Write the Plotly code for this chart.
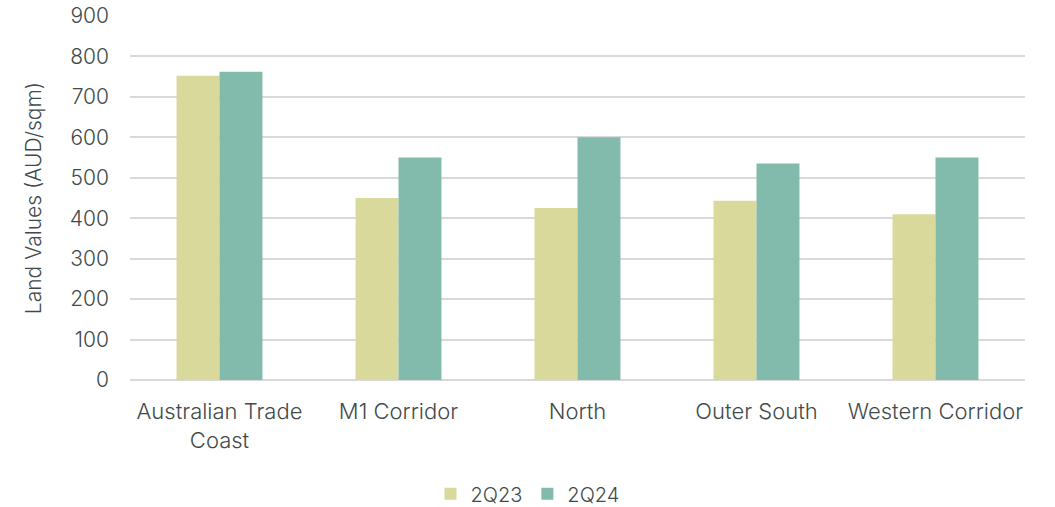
import plotly.graph_objects as go

categories = ["Australian Trade<br>Coast", "M1 Corridor", "North", "Outer South", "Western Corridor"]
values_2q23 = [752, 450, 425, 443, 410]
values_2q24 = [762, 550, 600, 535, 550]
series_names = ["2Q23", "2Q24"]
colors = ["#D9D99B", "#82BAAC"]
text_color = "#3F4B4B"
font_family = "Inter, Roboto, Arial, sans-serif"

fig = go.Figure()
for name, vals, col in zip(series_names, [values_2q23, values_2q24], colors):
    fig.add_trace(go.Bar(x=categories, y=vals, name=name, marker=dict(color=col, line=dict(width=0))))

fig.update_layout(
    width=1055, height=507,
    margin=dict(l=130, r=30, t=16, b=127),
    paper_bgcolor="white", plot_bgcolor="white",
    barmode="group", bargap=0.52, bargroupgap=0,
    font=dict(family=font_family, size=20, color=text_color, weight=300),
    showlegend=True,
    legend=dict(orientation="h", x=0.5, xanchor="center", xref="container",
                y=0.026, yanchor="middle", yref="container",
                font=dict(size=20, color=text_color, weight=300), itemwidth=30, traceorder="normal"),
    xaxis=dict(showgrid=False, showline=False, ticks="", automargin=False,
               ticklabelstandoff=16, tickfont=dict(size=22, color=text_color, weight=300)),
    yaxis=dict(range=[0, 900], dtick=100, showgrid=True, gridcolor="#D9D9D9", gridwidth=1.5,
               zeroline=True, zerolinecolor="#D9D9D9", zerolinewidth=1.5, automargin=False,
               ticks="", ticklabelstandoff=20, tickfont=dict(size=21, color=text_color, weight=300),
               title=dict(text="Land Values (AUD/sqm)", font=dict(size=21, color=text_color, weight=300), standoff=22)),
)

fig.write_html("out.html")
